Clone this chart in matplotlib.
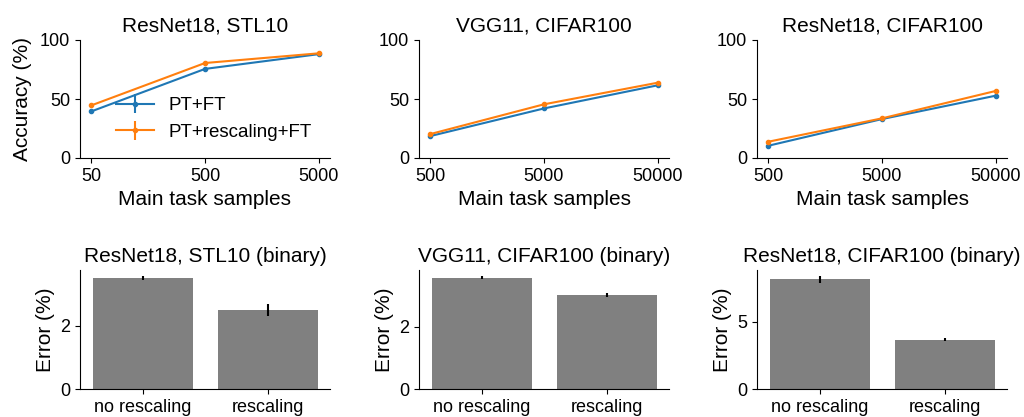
import numpy as np
import matplotlib.pyplot as plt

plt.rcParams['font.family'] = ['Liberation Sans', 'DejaVu Sans']
plt.rcParams['font.size'] = 15
plt.rcParams['xtick.labelsize'] = 13
plt.rcParams['ytick.labelsize'] = 13

# accuracy vs main-task samples
titles_top = ['ResNet18, STL10', 'VGG11, CIFAR100', 'ResNet18, CIFAR100']
samples = [[50, 500, 5000], [500, 5000, 50000], [500, 5000, 50000]]
acc_ptft = [[39.5, 75.5, 88.0], [18.6, 42.0, 61.6], [10.4, 33.0, 52.8]]
acc_ptft_err = [[1.0, 1.0, 0.5], [0.8, 0.8, 0.6], [0.6, 0.6, 0.6]]
acc_resc = [[44.6, 80.5, 88.7], [20.3, 45.5, 63.8], [13.8, 33.6, 56.8]]
acc_resc_err = [[1.0, 1.0, 0.5], [0.8, 0.8, 0.6], [0.6, 0.6, 0.6]]

# binary error bars
titles_bot = ['ResNet18, STL10 (binary)', 'VGG11, CIFAR100 (binary)', 'ResNet18, CIFAR100 (binary)']
bar_labels = ['no rescaling', 'rescaling']
err_vals = [[3.5, 2.5], [3.57, 3.0], [8.17, 3.68]]
err_sd = [[0.07, 0.19], [0.06, 0.06], [0.27, 0.13]]

fig = plt.figure(figsize=(10.24, 4.17), dpi=100)
lefts = [80 / 1024, 419 / 1024, 757 / 1024]
w = 250 / 1024

for i in range(3):
    ax = fig.add_axes([lefts[i], 1 - 158 / 417, w, 118 / 417])
    ax.errorbar(samples[i], acc_ptft[i], yerr=acc_ptft_err[i], fmt='-o', ms=3,
                color='tab:blue', label='PT+FT')
    ax.errorbar(samples[i], acc_resc[i], yerr=acc_resc_err[i], fmt='-o', ms=3,
                color='tab:orange', label='PT+rescaling+FT')
    ax.set_xscale('log')
    ax.set_xticks(samples[i])
    ax.set_xticklabels([str(s) for s in samples[i]])
    ax.minorticks_off()
    ax.set_ylim(0, 100)
    ax.set_yticks([0, 50, 100])
    ax.set_title(titles_top[i], fontsize=15)
    ax.set_xlabel('Main task samples')
    if i == 0:
        ax.set_ylabel('Accuracy (%)', labelpad=6)
        ax.legend(frameon=False, loc='lower left', bbox_to_anchor=(0.1, 0.05),
                  handlelength=2.0, borderaxespad=0.2, fontsize=13.5)
    ax.spines['top'].set_visible(False)
    ax.spines['right'].set_visible(False)

for i in range(3):
    ax = fig.add_axes([lefts[i], 1 - 389 / 417, w, 119 / 417])
    ax.bar(np.arange(2), err_vals[i], yerr=err_sd[i], color='gray', width=0.8,
           ecolor='black', error_kw={'elinewidth': 1.5})
    ax.set_xticks(np.arange(2))
    ax.set_xticklabels(bar_labels)
    ax.set_xlim(-0.5, 1.5)
    ax.set_title(titles_bot[i], fontsize=15)
    ax.set_ylabel('Error (%)')
    if i == 2:
        ax.set_yticks([0, 5])
    else:
        ax.set_yticks([0, 2])
    ax.spines['top'].set_visible(False)
    ax.spines['right'].set_visible(False)

plt.savefig('out.png', dpi=100)
